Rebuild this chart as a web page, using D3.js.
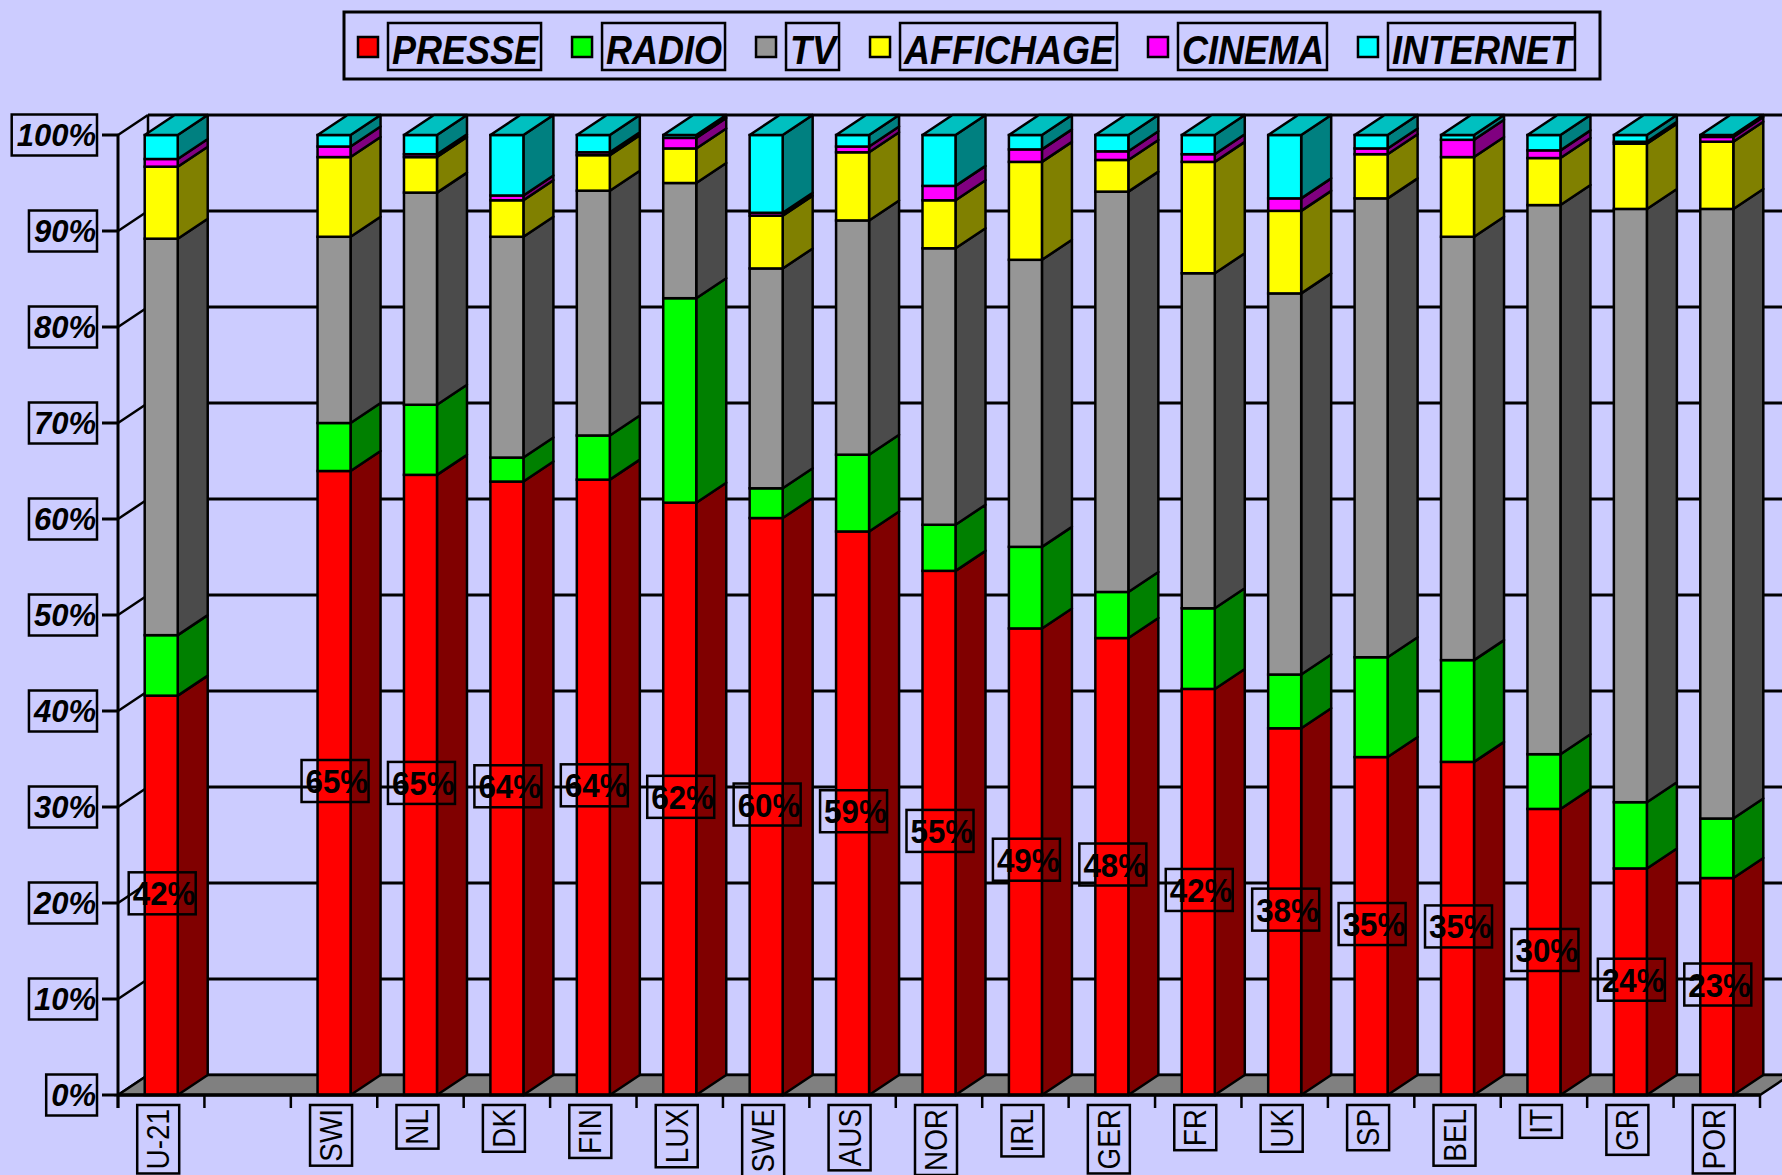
<!DOCTYPE html>
<meta charset="utf-8">
<script src="https://d3js.org/d3.v7.min.js"></script>
<style>
  body { margin: 0; background: #ccccff; }
  text { font-family: "Liberation Sans", Arial, sans-serif; }
</style>
<div id="chart"></div>
<script>
// categories (the empty one is the gap after U-21)
var categories = ["U-21", "", "SWI", "NL", "DK", "FIN", "LUX", "SWE", "AUS", "NOR", "IRL", "GER", "FR", "UK", "SP", "BEL", "IT", "GR", "POR"];

// share of each media, in %
var presse    = [41.6, null, 65.0, 64.6, 63.9, 64.1, 61.7, 60.1, 58.7, 54.6, 48.6, 47.6, 42.3, 38.2, 35.2, 34.7, 29.8, 23.6, 22.6];
var radio     = [6.3, null, 5.0, 7.3, 2.5, 4.6, 21.3, 3.1, 8.0, 4.8, 8.5, 4.8, 8.4, 5.6, 10.4, 10.6, 5.7, 6.9, 6.2];
var tv        = [41.3, null, 19.4, 22.1, 23.0, 25.5, 12.0, 22.9, 24.4, 28.8, 29.9, 41.7, 34.9, 39.7, 47.8, 44.1, 57.2, 61.8, 63.5];
var affichage = [7.5, null, 8.3, 3.7, 3.8, 3.7, 3.6, 5.5, 7.1, 5.0, 10.2, 3.3, 11.6, 8.6, 4.6, 8.3, 4.9, 6.8, 7.0];
var cinema    = [0.8, null, 1.1, 0.3, 0.5, 0.3, 1.1, 0.3, 0.6, 1.5, 1.3, 0.9, 0.8, 1.3, 0.6, 1.8, 0.8, 0.2, 0.5];
var internet  = [2.5, null, 1.2, 2.0, 6.3, 1.8, 0.3, 8.1, 1.2, 5.3, 1.5, 1.7, 2.0, 6.6, 1.4, 0.5, 1.6, 0.7, 0.2];

var seriesNames = ["PRESSE", "RADIO", "TV", "AFFICHAGE", "CINEMA", "INTERNET"];
var yTicks = [0, 10, 20, 30, 40, 50, 60, 70, 80, 90, 100];

var frontColors = ["#ff0000", "#00ff00", "#969696", "#ffff00", "#ff00ff", "#00ffff"];
var sideColors  = ["#800000", "#008000", "#4b4b4b", "#808000", "#800080", "#008080"];
var topColor = "#00c0c0";

var W = 1782, H = 1175;
var dx = 30, dy = -20;   // 3d depth offset

var svg = d3.select("#chart").append("svg")
    .attr("width", W)
    .attr("height", H);

svg.append("rect").attr("width", W).attr("height", H).attr("fill", "#ccccff");

var x = d3.scaleBand()
    .domain(categories)
    .range([118, 1760])
    .paddingInner(0.618)
    .paddingOuter(0.309);
var bw = x.bandwidth();
var step = x.step();

var y = d3.scaleLinear().domain([0, 100]).range([1095, 135]);

// table for the stack
var rows = categories.map(function(c, i) {
  return {cat: c, PRESSE: presse[i], RADIO: radio[i], TV: tv[i], AFFICHAGE: affichage[i], CINEMA: cinema[i], INTERNET: internet[i]};
}).filter(function(r) { return r.PRESSE !== null; });

var stacked = d3.stack().keys(seriesNames)(rows);

// back wall gridlines
svg.append("g").selectAll("line")
  .data(yTicks)
  .join("line")
    .attr("x1", 118 + dx).attr("x2", W)
    .attr("y1", function(d) { return y(d) + dy; })
    .attr("y2", function(d) { return y(d) + dy; })
    .attr("stroke", "#000").attr("stroke-width", 3);

// side wall lines
svg.append("g").selectAll("line")
  .data(yTicks)
  .join("line")
    .attr("x1", 118).attr("x2", 118 + dx)
    .attr("y1", function(d) { return y(d); })
    .attr("y2", function(d) { return y(d) + dy; })
    .attr("stroke", "#000").attr("stroke-width", 2.5);

svg.append("line")
  .attr("x1", 118 + dx).attr("x2", 118 + dx)
  .attr("y1", y(0) + dy).attr("y2", y(100) + dy)
  .attr("stroke", "#000").attr("stroke-width", 2.5);

// floor
var xEnd = x.range()[1];
svg.append("polygon")
  .attr("points", [[118, y(0)], [xEnd, y(0)], [xEnd + dx, y(0) + dy], [118 + dx, y(0) + dy]].join(" "))
  .attr("fill", "#808080")
  .attr("stroke", "#000").attr("stroke-width", 2.5);

// bars
var bars = svg.append("g").selectAll("g")
  .data(rows)
  .join("g");

bars.each(function(r, ri) {
  var g = d3.select(this);
  var xl = x(r.cat), xr = xl + bw;
  stacked.forEach(function(layer, k) {
    var s = layer[ri];
    var y0 = y(s[0]), y1 = y(s[1]);
    g.append("polygon")
      .attr("points", [[xr, y0], [xr + dx, y0 + dy], [xr + dx, y1 + dy], [xr, y1]].join(" "))
      .attr("fill", sideColors[k])
      .attr("stroke", "#000").attr("stroke-width", 2.5).attr("stroke-linejoin", "round");
    g.append("rect")
      .attr("x", xl).attr("y", y1)
      .attr("width", bw).attr("height", y0 - y1)
      .attr("fill", frontColors[k])
      .attr("stroke", "#000").attr("stroke-width", 2.5);
  });
  var yt = y(100);
  g.append("polygon")
    .attr("points", [[xl, yt], [xr, yt], [xr + dx, yt + dy], [xl + dx, yt + dy]].join(" "))
    .attr("fill", topColor)
    .attr("stroke", "#000").attr("stroke-width", 2.5).attr("stroke-linejoin", "round");
});

// front floor edge
svg.append("line")
  .attr("x1", 118).attr("x2", xEnd)
  .attr("y1", y(0)).attr("y2", y(0))
  .attr("stroke", "#000").attr("stroke-width", 3.5);

// y axis
svg.append("line")
  .attr("x1", 118).attr("x2", 118)
  .attr("y1", y(100)).attr("y2", y(0) + 13)
  .attr("stroke", "#000").attr("stroke-width", 3);

var yt = svg.append("g").selectAll("g")
  .data(yTicks)
  .join("g")
    .attr("transform", function(d) { return "translate(0," + y(d) + ")"; });

yt.append("line")
  .attr("x1", 102).attr("x2", 118)
  .attr("stroke", "#000").attr("stroke-width", 3);

yt.append("text")
  .attr("x", 96).attr("y", 11)
  .attr("text-anchor", "end")
  .style("font-size", "31px").style("font-weight", "bold").style("font-style", "italic")
  .text(function(d) { return d + "%"; });

yt.each(function() {
  var g = d3.select(this);
  var w = g.select("text").node().getComputedTextLength();
  g.insert("rect", "text")
    .attr("x", 96 - w - 5).attr("y", -20.5)
    .attr("width", w + 6).attr("height", 41)
    .attr("fill", "none").attr("stroke", "#000").attr("stroke-width", 2.5);
});

// x ticks
svg.append("g").selectAll("line")
  .data(d3.range(categories.length + 1))
  .join("line")
    .attr("x1", function(i) { return 118 + i * step; })
    .attr("x2", function(i) { return 118 + i * step; })
    .attr("y1", y(0)).attr("y2", y(0) + 13)
    .attr("stroke", "#000").attr("stroke-width", 2.5);

// category labels
var cl = svg.append("g").selectAll("g")
  .data(categories.filter(function(c) { return c !== ""; }))
  .join("g")
    .attr("transform", function(c) { return "translate(" + (x(c) + bw / 2 - 3) + "," + (y(0) + 14) + ") rotate(-90)"; });

cl.each(function(c) {
  var g = d3.select(this);
  var t = g.append("text")
    .attr("transform", "scale(0.9,1)")
    .attr("x", 0).attr("y", 11)
    .attr("text-anchor", "end")
    .style("font-size", "31px")
    .text(c);
  var w = t.node().getComputedTextLength() * 0.9;
  g.insert("rect", "text")
    .attr("x", -w - 4).attr("y", -21)
    .attr("width", w + 8).attr("height", 42)
    .attr("fill", "none").attr("stroke", "#000").attr("stroke-width", 2.5);
});

// value labels on PRESSE
var vl = svg.append("g").selectAll("g")
  .data(rows)
  .join("g")
    .attr("transform", function(r) { return "translate(" + (x(r.cat) + bw / 2 + 1) + "," + (y(r.PRESSE / 2) - 2) + ")"; });

vl.append("rect")
  .attr("x", -33.5).attr("y", -21)
  .attr("width", 67).attr("height", 42)
  .attr("fill", "none").attr("stroke", "#000").attr("stroke-width", 2.5);

vl.append("text")
  .attr("transform", "scale(0.92,1)")
  .attr("x", 2).attr("y", 12)
  .attr("text-anchor", "middle")
  .style("font-size", "34px").style("font-weight", "bold")
  .text(function(r) { return Math.round(r.PRESSE) + "%"; });

// legend
var legend = svg.append("g");
legend.append("rect")
  .attr("x", 344).attr("y", 12)
  .attr("width", 1256).attr("height", 67)
  .attr("fill", "none").attr("stroke", "#000").attr("stroke-width", 3);

var lx = 358;
seriesNames.forEach(function(name, k) {
  legend.append("rect")
    .attr("x", lx).attr("y", 37)
    .attr("width", 20).attr("height", 20)
    .attr("fill", frontColors[k])
    .attr("stroke", "#000").attr("stroke-width", 2.5);
  var tg = legend.append("g")
    .attr("transform", "translate(" + (lx + 34) + ",64) scale(0.9,1)");
  var t = tg.append("text")
    .style("font-size", "40px").style("font-weight", "bold").style("font-style", "italic")
    .text(name);
  var w = t.node().getComputedTextLength() * 0.9;
  legend.append("rect")
    .attr("x", lx + 30).attr("y", 23)
    .attr("width", w + 7).attr("height", 47)
    .attr("fill", "none").attr("stroke", "#000").attr("stroke-width", 2.5);
  lx += 30 + w + 7 + 31;
});
</script>
